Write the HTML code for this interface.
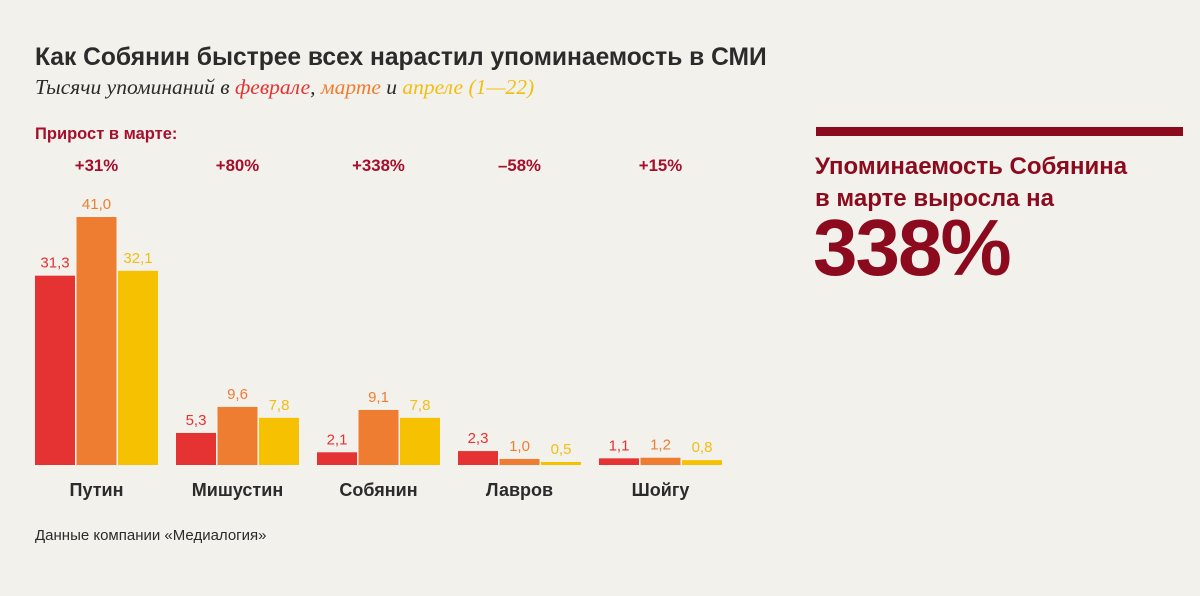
<!DOCTYPE html>
<html><head><meta charset="utf-8"><style>
html,body{margin:0;padding:0;background:#f3f1eb;}
svg{display:block;font-family:"Liberation Sans",sans-serif;}
</style></head><body>
<svg id="chart" width="1200" height="596" viewBox="0 0 1200 596">
<rect width="1200" height="596" fill="#f3f1eb"/>
<text x="35" y="65" font-size="24.6" font-weight="bold" fill="#2b2b2b">Как Собянин быстрее всех нарастил упоминаемость в СМИ</text>
<text x="35" y="94" font-size="21.5" font-style="italic" font-family="Liberation Serif,serif" fill="#2b2b2b">Тысячи упоминаний в <tspan fill="#e53232">феврале</tspan>, <tspan fill="#ef7d31">марте</tspan> и <tspan fill="#f3bd12">апреле (1—22)</tspan></text>
<text x="35" y="139" font-size="16.5" font-weight="bold" fill="#a50f2d">Прирост в марте:</text>
<rect x="816" y="127" width="367" height="9" fill="#8b0a1e"/>
<text x="815" y="174" font-size="24" font-weight="bold" fill="#8b0a1e"><tspan x="815">Упоминаемость Собянина</tspan><tspan x="815" dy="32">в марте выросла на</tspan></text>
<text x="813" y="275" font-size="80" font-weight="bold" fill="#8b0a1e" letter-spacing="-2">338%</text>
<text x="35" y="540" font-size="15" fill="#2b2b2b">Данные компании «Медиалогия»</text>
<g id="bars"></g>
</svg>
<script>
const categories = ["Путин","Мишустин","Собянин","Лавров","Шойгу"];
const febValues = [31.3,5.3,2.1,2.3,1.1];
const marValues = [41.0,9.6,9.1,1.0,1.2];
const aprValues = [32.1,7.8,7.8,0.5,0.8];
const growthLabels = ["+31%","+80%","+338%","–58%","+15%"];
const series = [febValues, marValues, aprValues];
const colors = ["#e53232","#ef7d31","#f5c100"];
const labelColors = ["#e53232","#ef7d31","#f3bd12"];
const seriesNames = ["feb","mar","apr"];
const NS = "http://www.w3.org/2000/svg";
const g = document.getElementById("bars");
const baseY = 465, pxPerUnit = 248/41;
const yScale = v => baseY - v*pxPerUnit;
const xGroup = i => 35 + i*141;
const barW = 40, gap = 1.5;
function mk(tag, attrs){const e=document.createElementNS(NS,tag);for(const k in attrs)e.setAttribute(k,attrs[k]);g.appendChild(e);return e;}
categories.forEach((c,i)=>{
  const gx = xGroup(i);
  series.forEach((s,j)=>{
    const x = gx + j*(barW+gap);
    const h = Math.max(baseY - yScale(s[i]), 2);
    const r = mk("rect",{x:x,y:baseY-h,width:barW,height:h,fill:colors[j]});
    
    
    const t = mk("text",{x:x+barW/2,y:baseY-h-8,"text-anchor":"middle","font-size":"15",fill:labelColors[j]});
    t.textContent = s[i].toFixed(1).replace(".",",");
    
    
  });
  const cx = gx + (3*barW+2*gap)/2;
  const cl = mk("text",{x:cx,y:496,"text-anchor":"middle","font-size":"18","font-weight":"bold",fill:"#2b2b2b"});
  cl.textContent = c;
  
  
  const gl = mk("text",{x:cx,y:171,"text-anchor":"middle","font-size":"16.8","font-weight":"bold",fill:"#a50f2d"});
  gl.textContent = growthLabels[i];
  
  
});
</script>
</body></html>
